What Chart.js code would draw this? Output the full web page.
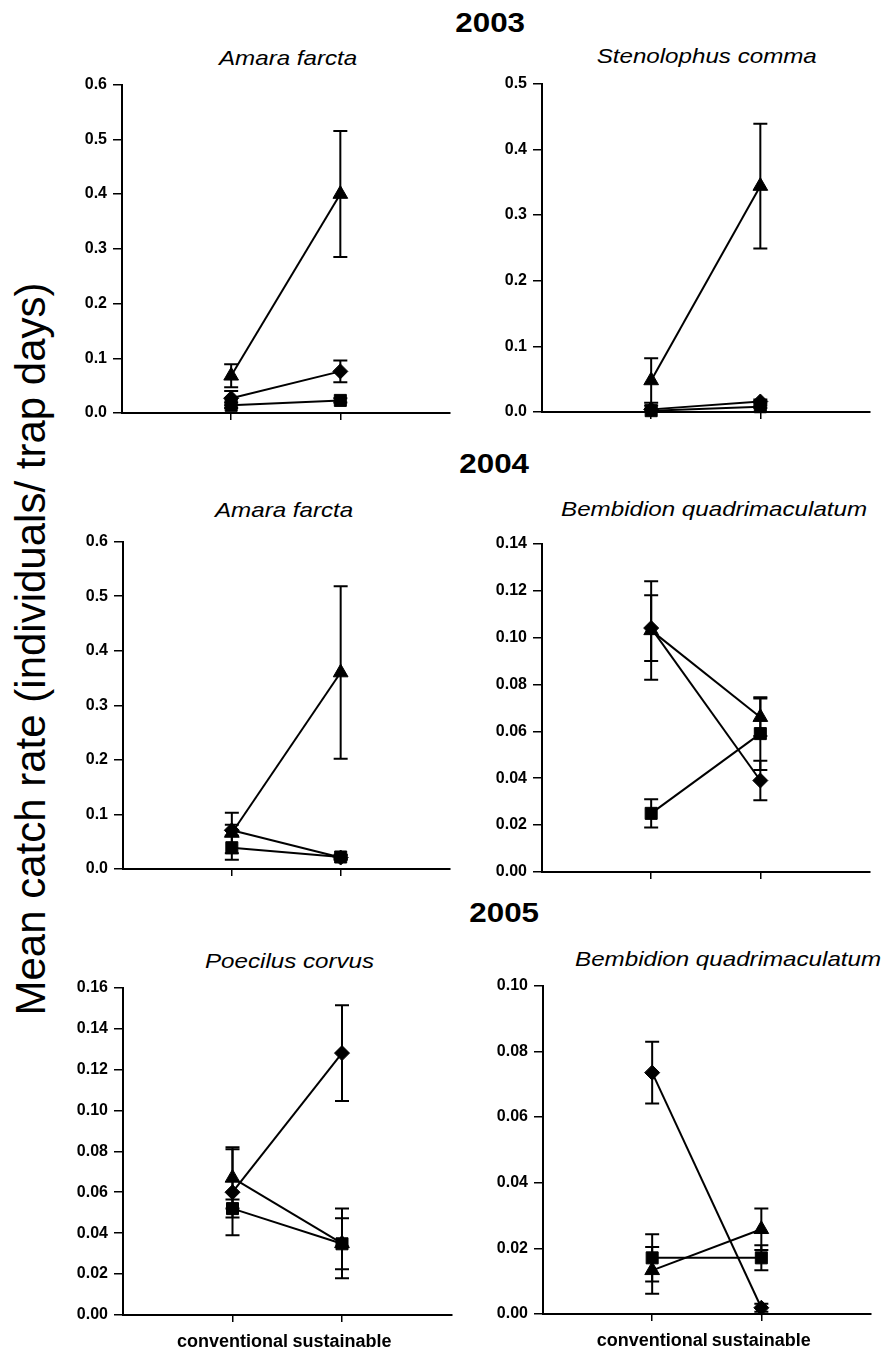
<!DOCTYPE html>
<html>
<head>
<meta charset="utf-8">
<script src="https://cdn.jsdelivr.net/npm/chart.js@4/dist/chart.umd.min.js"></script>
<style>
  html, body { margin: 0; padding: 0; background: #fff; }
  #page { position: relative; width: 887px; height: 1353px; overflow: hidden; font-family: "Liberation Sans", Arial, sans-serif; color: #000; }
  canvas { position: absolute; }
  .year { position: absolute; font-weight: bold; font-size: 28px; line-height: 28px; white-space: nowrap; transform-origin: center bottom; }
  .species { position: absolute; font-style: italic; font-size: 21px; line-height: 21px; white-space: nowrap; transform-origin: center bottom; }
  #ylabel { position: absolute; font-size: 42px; line-height: 42px; width: 800px; text-align: center; white-space: nowrap; }
</style>
</head>
<body>
<div id="page">
  <div id="ylabel">Mean catch rate (individuals/ trap days)</div>
</div>
<script>
// Sites compared on the x axis
const groups = ['conventional', 'sustainable'];

// 2003 – Amara farcta (means and standard errors)
const af03Tri = [0.068, 0.400];  const af03TriSE = [0.021, 0.115];
const af03Dia = [0.027, 0.076];  const af03DiaSE = [0.013, 0.020];
const af03Sq  = [0.014, 0.023];  const af03SqSE  = [0.005, 0.004];

// 2003 – Stenolophus comma
const sc03Tri = [0.048, 0.344];  const sc03TriSE = [0.034, 0.095];
const sc03Dia = [0.004, 0.016];  const sc03DiaSE = [0.006, 0.003];
const sc03Sq  = [0.002, 0.008];  const sc03SqSE  = [0.002, 0.002];

// 2004 – Amara farcta
const af04Tri = [0.066, 0.360];  const af04TriSE = [0.037, 0.158];
const af04Dia = [0.071, 0.021];  const af04DiaSE = [0.010, 0.004];
const af04Sq  = [0.039, 0.022];  const af04SqSE  = [0.022, 0.004];

// 2004 – Bembidion quadrimaculatum
const bq04Tri = [0.103, 0.066];  const bq04TriSE = [0.021, 0.008];
const bq04Dia = [0.104, 0.039];  const bq04DiaSE = [0.014, 0.0084];
const bq04Sq  = [0.025, 0.059];  const bq04SqSE  = [0.006, 0.0155];

// 2005 – Poecilus corvus
const pc05Tri = [0.067, 0.035];  const pc05TriSE = [0.015, 0.017];
const pc05Dia = [0.060, 0.128];  const pc05DiaSE = [0.021, 0.0234];
const pc05Sq  = [0.052, 0.0348]; const pc05SqSE  = [0.0044, 0.0125];

// 2005 – Bembidion quadrimaculatum
const bq05Tri = [0.0133, 0.0258]; const bq05TriSE = [0.0071, 0.0063];
const bq05Dia = [0.0735, 0.0019]; const bq05DiaSE = [0.0094, 0.0012];
const bq05Sq  = [0.0171, 0.0171]; const bq05SqSE  = [0.0072, 0.0038];

// Axis ranges per panel
const yMaxes = [0.6, 0.5, 0.6, 0.14, 0.16, 0.10];
const ySteps = [0.1, 0.1, 0.1, 0.02, 0.02, 0.02];
const yDecimals = [1, 1, 1, 2, 2, 2];

const years = ['2003', '2004', '2005'];
const speciesNames = ['Amara farcta', 'Stenolophus comma', 'Amara farcta',
  'Bembidion quadrimaculatum', 'Poecilus corvus', 'Bembidion quadrimaculatum'];

const panelSeries = [
  [[af03Tri, af03TriSE], [af03Dia, af03DiaSE], [af03Sq, af03SqSE]],
  [[sc03Tri, sc03TriSE], [sc03Dia, sc03DiaSE], [sc03Sq, sc03SqSE]],
  [[af04Tri, af04TriSE], [af04Dia, af04DiaSE], [af04Sq, af04SqSE]],
  [[bq04Tri, bq04TriSE], [bq04Dia, bq04DiaSE], [bq04Sq, bq04SqSE]],
  [[pc05Tri, pc05TriSE], [pc05Dia, pc05DiaSE], [pc05Sq, pc05SqSE]],
  [[bq05Tri, bq05TriSE], [bq05Dia, bq05DiaSE], [bq05Sq, bq05SqSE]]
];

// Page layout: plot-area edges of each panel (left axis, top, bottom, right)
const frames = [
  { left: 122, top: 81,  bottom: 413,  right: 453 },
  { left: 542, top: 80,  bottom: 412,  right: 873 },
  { left: 123, top: 538, bottom: 869,  right: 453 },
  { left: 542, top: 540, bottom: 872,  right: 873 },
  { left: 123, top: 984, bottom: 1315, right: 455 },
  { left: 543, top: 982, bottom: 1314, right: 874 }
];
const speciesPos = [[288, 65], [707, 63], [284, 517], [714, 516], [290, 968], [728, 966]];
const yearPos = [[490, 33], [494, 474], [504, 923]];

const markerStyles = [
  { pointStyle: 'triangle', radius: 8.5 },
  { pointStyle: 'rectRot', radius: 7.5 },
  { pointStyle: 'rect', radius: 8.5 }
];

const FONT = '"Liberation Sans", Arial, sans-serif';
const page = document.getElementById('page');

// Big shared y-axis title
const yl = document.getElementById('ylabel');
yl.style.left = (30.5 - 400) + 'px';
yl.style.top = (649 - 21) + 'px';
yl.style.transform = 'rotate(-90deg)';

function addText(cls, text, cx, baseline, stretch) {
  const d = document.createElement('div');
  d.className = cls;
  d.textContent = text;
  page.appendChild(d);
  const fs = parseFloat(getComputedStyle(d).fontSize);
  const w = d.getBoundingClientRect().width;
  d.style.left = (cx - w / 2) + 'px';
  // line-height equals font size; baseline sits ~0.85em below the box top
  d.style.top = (baseline - fs * 0.85) + 'px';
  d.style.transform = 'scaleX(' + stretch + ')';
}
years.forEach((y, i) => addText('year', y, yearPos[i][0], yearPos[i][1], 1.12));
speciesNames.forEach((s, i) => addText('species', s, speciesPos[i][0], speciesPos[i][1], 1.15));

// Draws mean ± SE bars with caps, using the chart's own scales
const errorBars = {
  id: 'errorBars',
  beforeDatasetsDraw(chart) {
    const { ctx, scales: { x, y } } = chart;
    ctx.save();
    ctx.strokeStyle = '#000';
    ctx.lineWidth = 2;
    chart.data.datasets.forEach(ds => {
      ds.data.forEach((p, i) => {
        const se = ds.se[i];
        const px = x.getPixelForValue(p.x);
        const yHi = y.getPixelForValue(p.y + se);
        const yLo = y.getPixelForValue(Math.max(0, p.y - se));
        ctx.beginPath();
        ctx.moveTo(px, yHi); ctx.lineTo(px, yLo);
        ctx.moveTo(px - 7, yHi); ctx.lineTo(px + 7, yHi);
        ctx.moveTo(px - 7, yLo); ctx.lineTo(px + 7, yLo);
        ctx.stroke();
      });
    });
    ctx.restore();
  }
};

const PAD_L = 70, PAD_T = 12, PAD_R = 6, PAD_B = 45;

frames.forEach((f, k) => {
  const cv = document.createElement('canvas');
  const w = (f.right - f.left) + PAD_L + PAD_R;
  const h = (f.bottom - f.top) + PAD_T + PAD_B;
  cv.width = w; cv.height = h;
  cv.style.width = w + 'px'; cv.style.height = h + 'px';
  cv.style.left = (f.left - PAD_L) + 'px';
  cv.style.top = (f.top - PAD_T) + 'px';
  page.appendChild(cv);

  const showX = k >= 4;
  const datasets = panelSeries[k].map((s, j) => ({
    data: s[0].map((v, i) => ({ x: i + 1, y: v })),
    se: s[1],
    borderColor: '#000',
    backgroundColor: '#000',
    borderWidth: 2,
    pointStyle: markerStyles[j].pointStyle,
    pointRadius: markerStyles[j].radius,
    pointBorderWidth: 1,
    pointBackgroundColor: '#000',
    pointBorderColor: '#000',
    tension: 0,
    clip: false
  }));

  new Chart(cv, {
    type: 'line',
    data: { datasets },
    plugins: [errorBars],
    options: {
      responsive: false,
      animation: false,
      devicePixelRatio: 1,
      layout: { padding: { top: PAD_T, right: PAD_R, bottom: 0, left: 0 } },
      plugins: { legend: { display: false }, tooltip: { enabled: false }, title: { display: false } },
      scales: {
        x: {
          type: 'linear',
          min: 0, max: 3,
          afterBuildTicks: s => { s.ticks = [{ value: 1 }, { value: 2 }]; },
          afterFit: s => { s.height = PAD_B; },
          grid: { drawOnChartArea: false, drawTicks: true, tickLength: 7, color: '#000', lineWidth: 1.5 },
          border: { display: true, color: '#000', width: 2 },
          ticks: {
            display: showX,
            padding: 9,
            color: '#000',
            font: { family: FONT, size: 18, weight: 'bold' },
            callback: v => groups[v - 1]
          }
        },
        y: {
          type: 'linear',
          min: 0, max: yMaxes[k],
          afterFit: s => { s.width = PAD_L; },
          grid: { drawOnChartArea: false, drawTicks: true, tickLength: 9, color: '#000', lineWidth: 1.5 },
          border: { display: true, color: '#000', width: 2 },
          ticks: {
            stepSize: ySteps[k],
            padding: 6,
            color: '#000',
            font: { family: FONT, size: 16, weight: 'bold' },
            callback: v => Number(v).toFixed(yDecimals[k])
          }
        }
      }
    }
  });
});
</script>
</body>
</html>
